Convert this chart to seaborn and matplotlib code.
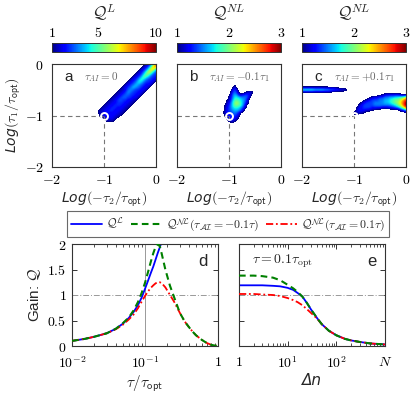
import numpy as np
import matplotlib
matplotlib.use("Agg")
import matplotlib.pyplot as plt
from matplotlib.ticker import MultipleLocator, LogLocator, NullFormatter
import seaborn as sns

# ------------------------------------------------------------------ data
# (d) gain versus tau / tau_opt
tau_L = [0.01, 0.015, 0.02, 0.03, 0.04, 0.05, 0.06, 0.07, 0.08, 0.09, 0.10,
         0.11, 0.12, 0.13, 0.14, 0.15, 0.16, 0.17, 0.18]
QL_tau = [0.10, 0.14, 0.18, 0.25, 0.34, 0.44, 0.55, 0.67, 0.80, 0.95, 1.12,
          1.28, 1.43, 1.56, 1.70, 1.83, 1.94, 2.05, 2.15]
tau_NL = [0.01, 0.015, 0.02, 0.03, 0.04, 0.05, 0.06, 0.07, 0.08, 0.09,
          0.10, 0.11, 0.12, 0.13, 0.14, 0.15, 0.16, 0.17,
          0.19, 0.22, 0.25, 0.30, 0.35, 0.40, 0.45, 0.50,
          0.60, 0.70, 0.80, 0.90, 1.0]
QNLm_tau = [0.10, 0.14, 0.18, 0.25, 0.34, 0.45, 0.56, 0.70, 0.86, 1.04,
            1.24, 1.45, 1.65, 1.82, 1.95, 2.00, 1.95, 1.80,
            1.50, 1.18, 0.96, 0.65, 0.48, 0.37, 0.28, 0.21,
            0.12, 0.06, 0.025, 0.008, 0.0]
QNLp_tau = [0.10, 0.14, 0.18, 0.25, 0.33, 0.42, 0.52, 0.62, 0.74, 0.87,
            0.98, 1.07, 1.14, 1.19, 1.23, 1.25, 1.25, 1.23,
            1.15, 1.00, 0.87, 0.65, 0.48, 0.37, 0.28, 0.21,
            0.12, 0.06, 0.025, 0.008, 0.0]

# (e) gain versus Delta n (tau = 0.1 tau_opt), N = 1000
dn = [1, 2, 3, 5, 7, 10, 13, 16, 20, 25, 30, 40, 50, 70, 100, 150, 200,
      300, 500, 700, 1000]
QL_dn = [1.19, 1.19, 1.19, 1.18, 1.17, 1.14, 1.10, 1.04, 0.97, 0.84, 0.72,
         0.55, 0.43, 0.30, 0.21, 0.14, 0.11, 0.08, 0.05, 0.04, 0.03]
QNLm_dn = [1.38, 1.38, 1.37, 1.34, 1.29, 1.20, 1.13, 1.06, 0.97, 0.84, 0.72,
           0.55, 0.43, 0.30, 0.21, 0.14, 0.11, 0.08, 0.05, 0.04, 0.03]
QNLp_dn = [1.02, 1.02, 1.01, 1.00, 0.98, 0.94, 0.90, 0.86, 0.80, 0.72, 0.65,
           0.54, 0.43, 0.30, 0.21, 0.14, 0.11, 0.08, 0.05, 0.04, 0.03]

# (a-c) gain maps on a 0.05 grid of Log(-tau2/topt) (columns) x Log(tau1/topt) (rows).
# One character per grid value: '.' = below the colour range (white),
# CODE[k] -> Q = Qmin + k * dQ.
CODE = "0123456789ABCDEFGHI"
GRID = np.round(np.linspace(-2.0, 0.0, 41), 2)

FIELD_A_ORIGIN = (-1.20, 0.00)   # x of first column, y of first row
FIELD_A_Q = (1.0, 0.5)           # Qmin, dQ
FIELD_A = [
    "." * 20 + "1259I",
    "." * 19 + "1248GB",
    "." * 18 + "1247EA6",
    "." * 17 + "1247C953",
    "." * 16 + "1236A8533",
    "." * 15 + "1235975332",
    "." * 14 + "12358643321",
    "." * 13 + "12347643321" + "." * 1,
    "." * 12 + "12346543221" + "." * 2,
    "." * 11 + "12346543221" + "." * 3,
    "." * 10 + "11245433221" + "." * 4,
    "." * 9 + "11235433221" + "." * 5,
    "." * 8 + "11234433221" + "." * 6,
    "." * 7 + "11234433221" + "." * 7,
    "." * 6 + "11234332211" + "." * 8,
    "." * 5 + "11223332211" + "." * 9,
    "." * 4 + "11223332211" + "." * 10,
    "." * 3 + "11223322211" + "." * 11,
    "." * 2 + "11223322211" + "." * 12,
    "." * 2 + "1123222211" + "." * 13,
    "." * 2 + "012222211" + "." * 14,
    "." * 2 + "00122210" + "." * 15,
    "." * 4 + "01110" + "." * 16,
]

FIELD_B_ORIGIN = (-1.20, -0.35)
FIELD_B_Q = (1.0, 0.125)
FIELD_B = [
    "...............",
    "......0........",
    "......2........",
    ".....131.....0.",
    ".....242..0120.",
    "....035412331..",
    "....136654430..",
    "...014776541...",
    "...125897531...",
    "..013588752....",
    "..023566531....",
    "..02345542.....",
    "..1233431......",
    "..0123320......",
    "...12221.......",
    "...01210.......",
    ".....0.........",
]

FIELD_C_ORIGIN = (-2.00, -0.40)
FIELD_C_Q = (1.0, 0.125)
FIELD_C = [
    "." * 41,
    "0" * 14 + "." * 27,
    "7777766665544332210" + "." * 22,
    "0" * 12 + "." * 29,
    "." * 30 + "00222222100",
    "." * 26 + "01223344556678B",
    "." * 24 + "01233344556788ACE",
    "." * 23 + "123334444556789BDG",
    "." * 22 + "1233334444444568ADG",
    "." * 21 + "0223332222111223469D",
    "." * 21 + "12221100" + "." * 9 + "124",
    "." * 20 + "11110" + "." * 15 + "0",
    "." * 20 + "00" + "." * 19,
]

OPT_POINT = (-1.0, -1.0)
CBAR_TICKS = [[1, 5, 10], [1, 2, 3], [1, 2, 3]]
CBAR_TITLES = [r"$\mathcal{Q}^{L}$", r"$\mathcal{Q}^{NL}$", r"$\mathcal{Q}^{NL}$"]
PANEL_LETTERS = ["a", "b", "c"]
PANEL_NOTES = [r"$\tau_{AI}=0$", r"$\tau_{AI}=-0.1\tau_1$", r"$\tau_{AI}=+0.1\tau_1$"]
QRANGES = [(1, 10), (1, 3), (1, 3)]


def decode(rows, origin, qpar):
    qmin, dq = qpar
    n = len(GRID)
    Z = np.full((n, n), qmin - dq)
    c0 = int(round((origin[0] - GRID[0]) / 0.05))
    r0 = int(round((GRID[-1] - origin[1]) / 0.05))
    for r, line in enumerate(rows):
        for c, ch in enumerate(line):
            if ch != ".":
                Z[r0 + r, c0 + c] = qmin + CODE.index(ch) * dq
    return Z


fields = [decode(FIELD_A, FIELD_A_ORIGIN, FIELD_A_Q),
          decode(FIELD_B, FIELD_B_ORIGIN, FIELD_B_Q),
          decode(FIELD_C, FIELD_C_ORIGIN, FIELD_C_Q)]

# ------------------------------------------------------------------ style
sns.set_theme(style="ticks")
plt.rcParams.update({
    "font.family": ["DejaVu Sans"],
    "mathtext.fontset": "cm",
    "axes.edgecolor": "#333333",
    "axes.linewidth": 0.8,
    "xtick.direction": "in", "ytick.direction": "in",
    "xtick.top": True, "ytick.right": True,
    "xtick.color": "#333333", "ytick.color": "#333333",
    "xtick.labelcolor": "black", "ytick.labelcolor": "black",
    "xtick.major.size": 3.5, "ytick.major.size": 3.5,
    "xtick.minor.size": 2.0, "ytick.minor.size": 2.0,
    "xtick.major.width": 0.7, "ytick.major.width": 0.7,
    "xtick.minor.width": 0.6, "ytick.minor.width": 0.6,
    "xtick.labelsize": 10, "ytick.labelsize": 10,
})

W, H = 415, 396
fig = plt.figure(figsize=(W / 100, H / 100), dpi=100)


def box(l, t, r, b):
    return [l / W, 1 - b / H, (r - l) / W, (b - t) / H]


SANS = "Liberation Sans"
cmap = plt.get_cmap("jet").copy()
cmap.set_under("white")

top_x = [(52, 156), (177, 281), (302, 406)]
step = 0.05
extent = [GRID[0] - step / 2, GRID[-1] + step / 2, GRID[0] - step / 2, GRID[-1] + step / 2]

for k in range(3):
    l, r = top_x[k]
    ax = fig.add_axes(box(l, 64, r, 167))
    vmin, vmax = QRANGES[k]
    im = ax.imshow(fields[k], extent=extent, origin="upper", cmap=cmap,
                   vmin=vmin, vmax=vmax, interpolation="bicubic",
                   interpolation_stage="data", aspect="auto", zorder=1)
    ax.set_xlim(-2, 0)
    ax.set_ylim(-2, 0)
    ax.plot([-2, OPT_POINT[0]], [OPT_POINT[1], OPT_POINT[1]], ls=(0, (4, 3)),
            color="#777777", lw=0.8, zorder=2)
    ax.plot([OPT_POINT[0], OPT_POINT[0]], [-2, OPT_POINT[1]], ls=(0, (4, 3)),
            color="#777777", lw=0.8, zorder=2)
    ax.plot([OPT_POINT[0]], [OPT_POINT[1]], "o", mfc="none", mec="white",
            mew=1.4, ms=5, zorder=3)
    ax.xaxis.set_minor_locator(MultipleLocator(0.2))
    ax.yaxis.set_minor_locator(MultipleLocator(0.2))
    ax.set_xticks([-2, -1, 0])
    ax.set_xticklabels([r"$-2$", r"$-1$", r"$0$"])
    ax.set_yticks([-2, -1, 0])
    if k == 0:
        ax.set_yticklabels([r"$-2$", r"$-1$", r"$0$"])
        ax.set_ylabel(r"Log$(\tau_1/\tau_{\mathsf{opt}})$", fontfamily="DejaVu Sans",
                      fontstyle="italic", fontsize=10, labelpad=1)
    else:
        ax.set_yticklabels([])
    ax.set_xlabel(r"Log$(-\tau_2/\tau_{\mathsf{opt}})$", fontfamily="DejaVu Sans",
                  fontstyle="italic", fontsize=10, labelpad=2)
    ax.tick_params(axis="x", which="both", pad=4)
    ax.tick_params(axis="y", which="both", pad=6)
    ax.text(0.12, 0.875, PANEL_LETTERS[k], transform=ax.transAxes, fontsize=11,
            fontfamily=SANS, ha="left", va="center")
    ax.text(0.31, 0.875, PANEL_NOTES[k], transform=ax.transAxes, fontsize=8,
            color="#666666", ha="left", va="center")

    cax = fig.add_axes(box(l, 43, r, 52))
    cb = fig.colorbar(im, cax=cax, orientation="horizontal")
    cax.xaxis.set_ticks_position("top")
    cb.set_ticks(CBAR_TICKS[k])
    cb.set_ticklabels([rf"${t}$" for t in CBAR_TICKS[k]])
    cax.tick_params(axis="x", direction="in", length=6.8, width=0.6,
                    color="#888888", labelsize=10, pad=2, top=True, bottom=False)
    cax.minorticks_off()
    cb.outline.set_linewidth(0.7)
    fig.text((l + r) / 2 / W, 1 - 13 / H, CBAR_TITLES[k], ha="center",
             va="center", fontsize=12)

# ------------------------------------------------------------------ bottom panels
c_blue, c_green, c_red = "#0000ff", "#008000", "#ff0000"
ls_green = (0, (3.2, 2.0))
ls_red = (0, (4.0, 1.5, 1.0, 1.5))
lab_L = r"$\mathcal{Q}^{\mathcal{L}}$"
lab_m = r"$\mathcal{Q}^{\mathcal{NL}}(\tau_{\mathcal{AI}}=-0.1\tau)$"
lab_p = r"$\mathcal{Q}^{\mathcal{NL}}(\tau_{\mathcal{AI}}=0.1\tau)$"

ax_d = fig.add_axes(box(72, 244, 218, 346))
ax_e = fig.add_axes(box(239, 244, 385, 346))
for ax in (ax_d, ax_e):
    ax.set_xscale("log")

sns.lineplot(x=tau_NL, y=QNLp_tau, ax=ax_d, color=c_red, lw=1.3,
             linestyle=ls_red, label=lab_p, zorder=3)
sns.lineplot(x=tau_NL, y=QNLm_tau, ax=ax_d, color=c_green, lw=1.5,
             linestyle=ls_green, label=lab_m, zorder=4)
sns.lineplot(x=tau_L, y=QL_tau, ax=ax_d, color=c_blue, lw=1.3,
             label=lab_L, zorder=2)

sns.lineplot(x=dn, y=QNLp_dn, ax=ax_e, color=c_red, lw=1.3,
             linestyle=ls_red, zorder=3)
sns.lineplot(x=dn, y=QNLm_dn, ax=ax_e, color=c_green, lw=1.5,
             linestyle=ls_green, zorder=4)
sns.lineplot(x=dn, y=QL_dn, ax=ax_e, color=c_blue, lw=1.3, zorder=2)

ax_d.axvline(0.1, color="#999999", lw=0.7, zorder=1)
for ax in (ax_d, ax_e):
    ax.axhline(1.0, color="#999999", lw=0.7, ls=(0, (6, 2, 1, 2)), zorder=1)
    ax.set_ylim(0, 2)
    ax.set_yticks([0, 0.5, 1, 1.5, 2])
    ax.xaxis.set_minor_locator(LogLocator(base=10, subs=np.arange(2, 10)))
    ax.xaxis.set_minor_formatter(NullFormatter())
    ax.tick_params(axis="x", which="both", pad=6.5)
    ax.tick_params(axis="y", which="both", pad=4)

ax_d.set_xlim(0.01, 1)
ax_d.set_xticks([0.01, 0.1, 1])
ax_d.set_xticklabels([r"$10^{-2}$", r"$10^{-1}$", r"$1$"])
ax_d.set_yticklabels([r"$0$", r"$0.5$", r"$1$", r"$1.5$", r"$2$"])
ax_d.set_ylabel(r"Gain: $\mathcal{Q}$", fontfamily=SANS, fontsize=11, labelpad=3)
ax_d.set_xlabel(r"$\tau/\tau_{\mathsf{opt}}$", fontsize=11, labelpad=2)
ax_d.text(0.9, 0.83, "d", transform=ax_d.transAxes, fontsize=12,
          fontfamily=SANS, ha="center", va="center")

ax_e.set_xlim(1, 1000)
ax_e.set_xticks([1, 10, 100, 1000])
ax_e.set_xticklabels([r"$1$", r"$10^{1}$", r"$10^{2}$", r"$N$"])
ax_e.set_yticklabels([])
ax_e.set_xlabel("Δn", fontfamily="DejaVu Sans", fontstyle="italic",
                fontsize=11, labelpad=2)
ax_e.text(0.91, 0.83, "e", transform=ax_e.transAxes, fontsize=12,
          fontfamily=SANS, ha="center", va="center")
ax_e.text(0.30, 0.83, r"$\tau=0.1\tau_{\rm opt}$", transform=ax_e.transAxes,
          fontsize=10, ha="center", va="center")

handles, labels = ax_d.get_legend_handles_labels()
order = [labels.index(lab_L), labels.index(lab_m), labels.index(lab_p)]
for ax in (ax_d, ax_e):
    if ax.get_legend() is not None:
        ax.get_legend().remove()
leg = fig.legend([handles[i] for i in order], [labels[i] for i in order],
                 loc="center", bbox_to_anchor=(228 / W, 1 - 224 / H), ncol=3,
                 frameon=True, fancybox=False, edgecolor="#444444", fontsize=8.5,
                 handlelength=2.6, columnspacing=0.6, handletextpad=0.35,
                 borderpad=0.35, borderaxespad=0.0)
leg.get_frame().set_linewidth(0.8)

fig.savefig("out.png", dpi=100)
